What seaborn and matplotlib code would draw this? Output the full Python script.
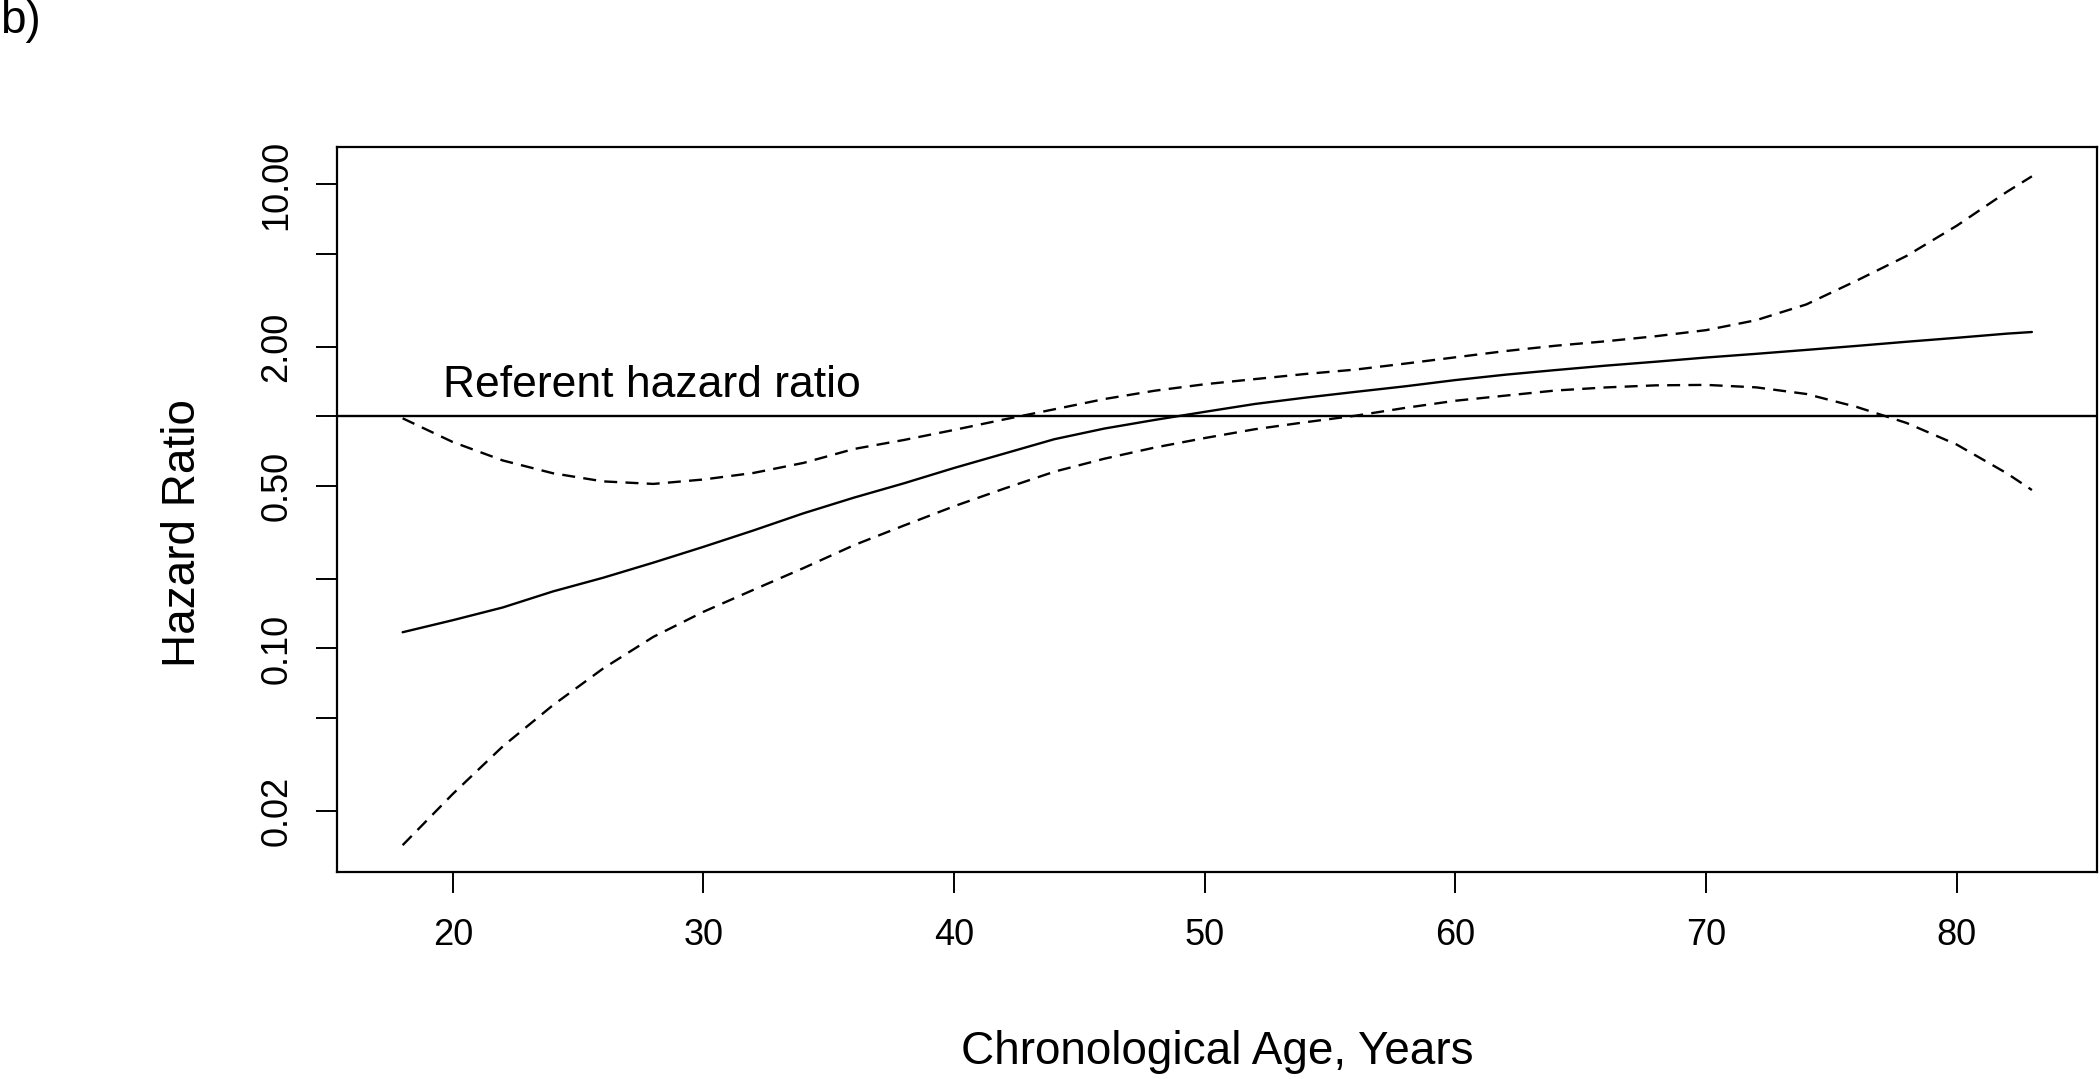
import numpy as np
import pandas as pd
import matplotlib
matplotlib.use("Agg")
import matplotlib.pyplot as plt
import seaborn as sns

# ---- data ----
age = [18, 20, 22, 24, 26, 28, 30, 32, 34, 36, 38, 40, 42, 44, 46, 48, 50,
       52, 54, 56, 58, 60, 62, 64, 66, 68, 70, 72, 74, 76, 78, 80, 82, 83]
hr_estimate = [0.1175, 0.1324, 0.1503, 0.1762, 0.2018, 0.2344, 0.2742, 0.3228,
               0.3828, 0.4467, 0.5152, 0.5998, 0.6918, 0.7980, 0.8872, 0.9660,
               1.047, 1.132, 1.205, 1.276, 1.349, 1.435, 1.514, 1.585, 1.656,
               1.722, 1.795, 1.862, 1.936, 2.014, 2.099, 2.183, 2.275, 2.312]
hr_upper = [0.982, 0.776, 0.646, 0.569, 0.525, 0.512, 0.535, 0.571, 0.631,
            0.724, 0.792, 0.875, 0.971, 1.074, 1.189, 1.291, 1.377, 1.449,
            1.524, 1.592, 1.690, 1.799, 1.914, 2.018, 2.109, 2.218, 2.355,
            2.600, 3.040, 3.846, 4.920, 6.637, 9.290, 10.84]
hr_lower = [0.0142, 0.0236, 0.0379, 0.0570, 0.0820, 0.1122, 0.1439, 0.1791,
            0.2223, 0.2786, 0.3388, 0.4102, 0.4887, 0.5781, 0.6577, 0.7345,
            0.8072, 0.8810, 0.9441, 1.007, 1.089, 1.169, 1.230, 1.294, 1.334,
            1.362, 1.368, 1.335, 1.250, 1.100, 0.9376, 0.7568, 0.5689, 0.4819]
x_ticks = [20, 30, 40, 50, 60, 70, 80]
y_ticks = [10, 5, 2, 1, 0.5, 0.2, 0.1, 0.05, 0.02]
y_tick_labels = ["10.00", "", "2.00", "", "0.50", "", "0.10", "", "0.02"]
referent_hr = 1.0
referent_label = "Referent hazard ratio"
panel_label = "b)"
x_label = "Chronological Age, Years"
y_label = "Hazard Ratio"

# ---- style ----
sns.set_style("ticks")
plt.rcParams["font.family"] = ["Liberation Sans", "DejaVu Sans"]
plt.rcParams["text.color"] = "black"
plt.rcParams["axes.labelcolor"] = "black"
plt.rcParams["xtick.color"] = "black"
plt.rcParams["ytick.color"] = "black"

fig = plt.figure(figsize=(21, 10.79), dpi=100)
ax = fig.add_axes([0.1607, 0.1921, 0.8379, 0.6712])

df = pd.DataFrame({"age": age, "estimate": hr_estimate,
                   "upper": hr_upper, "lower": hr_lower})

lw = 1.7
sns.lineplot(data=df, x="age", y="estimate", ax=ax, color="black",
             linewidth=lw, estimator=None, sort=False)
sns.lineplot(data=df, x="age", y="upper", ax=ax, color="black",
             linewidth=lw, linestyle=(0, (5.5, 3.5)), estimator=None, sort=False)
sns.lineplot(data=df, x="age", y="lower", ax=ax, color="black",
             linewidth=lw, linestyle=(0, (5.5, 3.5)), estimator=None, sort=False)
ax.axhline(referent_hr, color="black", linewidth=lw)

ax.set_yscale("log")
ax.set_xlim(15.4, 85.6)
ax.set_ylim(0.01091, 14.43)

ax.set_xticks(x_ticks)
ax.set_xticklabels([str(t) for t in x_ticks])
ax.set_yticks(y_ticks)
ax.set_yticklabels(y_tick_labels)
ax.yaxis.set_minor_locator(matplotlib.ticker.NullLocator())

ax.tick_params(axis="both", direction="out", length=15, width=1.4,
               labelsize=26, color="black", labelcolor="black")
ax.tick_params(axis="x", pad=18)
ax.tick_params(axis="y", pad=16, labelrotation=90)
for lab in ax.get_yticklabels():
    lab.set_va("center")

for sp in ax.spines.values():
    sp.set_visible(True)
    sp.set_linewidth(1.6)
    sp.set_color("black")

ax.set_xlabel(x_label, fontsize=33, color="black")
ax.set_ylabel(y_label, fontsize=33, color="black")
ax.xaxis.label.set_va("center")
ax.xaxis.set_label_coords(0.5, -0.249)
ax.yaxis.label.set_va("center")
ax.yaxis.set_label_coords(-0.0877, 0.468)

ax.text(19.6, 1.217, referent_label, fontsize=32, ha="left", va="baseline",
        color="black")
fig.text(0.0, 0.9694, panel_label, fontsize=33, ha="left", va="baseline",
         color="black")

fig.savefig("out.png", dpi=100)
